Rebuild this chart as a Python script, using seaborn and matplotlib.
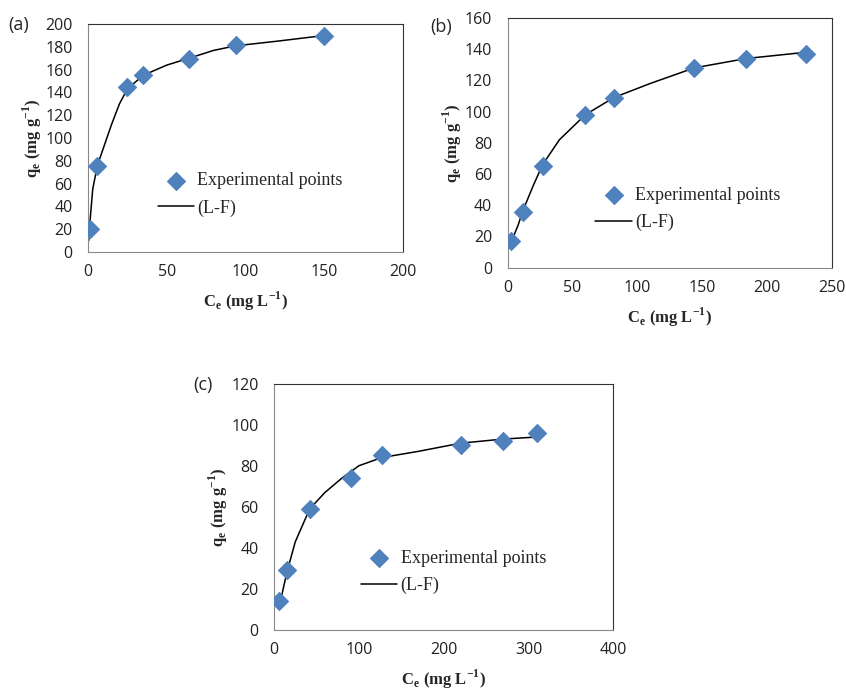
import seaborn as sns
import matplotlib.pyplot as plt
import pandas as pd

# (a)
a_ce = [1, 6, 25, 35, 64, 94, 150]
a_qe = [20, 75, 145, 155, 169, 182, 190]
a_fit_ce = [0.5, 1, 3, 6, 10, 15, 20, 25, 35, 50, 64, 80, 94, 120, 150]
a_fit_qe = [10, 22, 55, 76, 92, 112, 130, 143, 155, 164, 170, 177, 181, 185, 190]

# (b)
b_ce = [3, 12, 27, 60, 82, 144, 184, 230]
b_qe = [17, 36, 65, 98, 109, 128, 134, 137]
b_fit_ce = [3, 8, 12, 20, 27, 40, 60, 82, 110, 144, 184, 230]
b_fit_qe = [17, 27, 37, 53, 66, 82, 98, 109, 118, 128, 134, 138]

# (c)
c_ce = [6, 15, 42, 91, 127, 220, 270, 310]
c_qe = [14, 29, 59, 74, 85, 90, 92, 96]
c_fit_ce = [8, 15, 25, 42, 60, 80, 100, 127, 170, 220, 270, 310]
c_fit_qe = [15, 28, 43, 59, 67, 74, 80, 84, 87, 91, 93, 94]

# tag, data..., xmax, xstep, ymax, axes rect, legend anchor, tag position
panels = [
    ("(a)", a_ce, a_qe, a_fit_ce, a_fit_qe, 200, 50, 200,
     [0.104, 0.635, 0.372, 0.330], (0.17, 0.252), (-0.254, 0.995)),
    ("(b)", b_ce, b_qe, b_fit_ce, b_fit_qe, 250, 50, 160,
     [0.600, 0.612, 0.383, 0.362], (0.221, 0.236), (-0.238, 0.965)),
    ("(c)", c_ce, c_qe, c_fit_ce, c_fit_qe, 400, 100, 120,
     [0.324, 0.087, 0.401, 0.357], (0.208, 0.234), (-0.239, 0.995)),
]

sns.set_style("white")
plt.rcParams["font.family"] = ["Open Sans", "DejaVu Sans"]
plt.rcParams["mathtext.fontset"] = "custom"
plt.rcParams["mathtext.rm"] = "Liberation Serif:bold"
plt.rcParams["mathtext.bf"] = "Liberation Serif:bold"

fig = plt.figure(figsize=(8.46, 6.9), dpi=100)
serif = "Liberation Serif"
blue = "#4F81BD"

for tag, ce, qe, fce, fqe, xmax, xstep, ymax, pos, leg_anchor, tag_pos in panels:
    ax = fig.add_axes(pos)
    pts = pd.DataFrame({"ce": ce, "qe": qe})
    fit = pd.DataFrame({"ce": fce, "qe": fqe})
    sns.lineplot(data=fit, x="ce", y="qe", ax=ax, color="black", linewidth=1.1,
                 label="(L-F)", zorder=2)
    sns.scatterplot(data=pts, x="ce", y="qe", ax=ax, marker="D", s=85, color=blue,
                    edgecolor=blue, label="Experimental points", zorder=3)
    ax.set_xlim(0, xmax)
    ax.set_ylim(0, ymax)
    ax.set_xticks(range(0, xmax + 1, xstep))
    ax.set_yticks(range(0, ymax + 1, 20))
    ax.tick_params(axis="both", direction="out", length=4, width=0.8, color="#888888",
                   labelsize=11.5, labelcolor="#222222")
    ax.tick_params(axis="x", pad=5)
    ax.tick_params(axis="y", pad=7)
    for side, sp in ax.spines.items():
        sp.set_linewidth(0.8)
        sp.set_color("#888888" if side in ("left", "bottom") else "#333333")
    ax.set_xlabel(r"C$_\mathrm{e}$ (mg L$^\mathrm{-1}$)", fontfamily=serif,
                  fontweight="bold", fontsize=12, labelpad=7)
    ax.set_ylabel(r"q$_\mathrm{e}$ (mg g$^\mathrm{-1}$)", fontfamily=serif,
                  fontweight="bold", fontsize=12, labelpad=1)
    handles, labels = ax.get_legend_handles_labels()
    ax.legend(handles[::-1], labels[::-1], loc="center left", bbox_to_anchor=leg_anchor,
              frameon=False, prop={"family": serif, "size": 13}, handlelength=2.0,
              handletextpad=0.2, labelspacing=0.55)
    ax.text(tag_pos[0], tag_pos[1], tag, transform=ax.transAxes, fontsize=13,
            va="center", ha="left")

fig.savefig("out.png", dpi=100, facecolor="white")
